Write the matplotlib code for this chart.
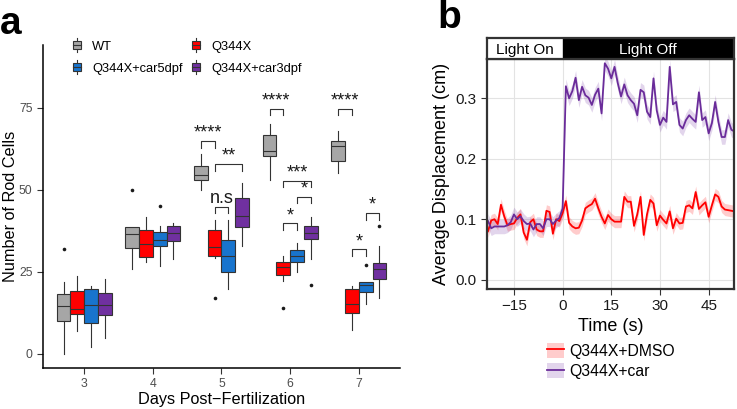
import matplotlib.pyplot as plt
from matplotlib.patches import Rectangle, Patch
from matplotlib.lines import Line2D
from matplotlib.legend_handler import HandlerBase

plt.rcParams['font.family'] = ['Liberation Sans', 'DejaVu Sans']

# ---- Panel a data (rod cell counts, box stats per day: [low whisker, q1, median, q3, high whisker])
days = [3, 4, 5, 6, 7]
groups = ['WT', 'Q344X', 'Q344X+car5dpf', 'Q344X+car3dpf']
group_colors = ['#A6A6A6', '#FF0000', '#1874CD', '#7030A0']

wt_stats = [[0, 10.1, 14.5, 18.4, 21.8], [25.9, 32.4, 36.5, 38.8, 38.8], [50, 52.9, 54.6, 57.2, 61],
            [53.1, 60.2, 62, 66.9, 70], [55.1, 58.9, 63.3, 65, 67.9]]
wt_fliers = [[32], [50], [], [], []]
q344x_stats = [[6.9, 12.2, 13.7, 19.2, 23.8], [28.1, 29.7, 33.5, 37.7, 41.9], [29.2, 29.9, 32.6, 37.7, 40.9],
               [22.2, 24.1, 26.5, 28.1, 29.9], [7.2, 12.4, 15.1, 19.7, 20.8]]
q344x_fliers = [[], [], [16.9], [14.1], []]
car5_stats = [[2.0, 9.4, 14.9, 19.7, 20.8], [26.8, 32.9, 34.6, 37.3, 38.9], [19.9, 24.9, 30, 34.7, 40.9],
              [25.1, 28, 30, 31.7, 33.8], [15.1, 19.0, 20.9, 22.0, 22.0]]
car5_fliers = [[], [45], [], [], [27]]
car3_stats = [[4.9, 12.0, 14.9, 18.7, 22.9], [28.9, 34.3, 37, 39, 39.9], [33, 38.6, 42.1, 47.6, 52],
              [29, 34.9, 37, 39, 41.9], [17.2, 22.9, 25.9, 27.7, 33]]
car3_fliers = [[], [], [], [21], [39]]

# significance brackets: day, group index a, group index b, height, label
sig_day = [5, 5, 5, 6, 6, 6, 6, 7, 7, 7]
sig_a = [0, 1, 1, 0, 1, 2, 1, 0, 1, 2]
sig_b = [1, 3, 2, 1, 3, 3, 2, 1, 2, 3]
sig_y = [64.9, 57.9, 44.9, 74.8, 52.8, 48.0, 39.8, 74.8, 31.9, 42.9]
sig_label = ['****', '**', 'n.s', '****', '***', '*', '*', '****', '*', '*']

# ---- Panel b data (average displacement, 1 s bins)
time_s = list(range(-23, 54))
dmso = [0.080, 0.098, 0.100, 0.092, 0.124, 0.105, 0.090, 0.092, 0.093, 0.102, 0.108, 0.078, 0.066,
        0.095, 0.100, 0.083, 0.080, 0.080, 0.114, 0.112, 0.076, 0.100, 0.097, 0.110, 0.130, 0.094,
        0.088, 0.085, 0.086, 0.098, 0.118, 0.122, 0.125, 0.134, 0.118, 0.104, 0.093, 0.107, 0.100,
        0.096, 0.096, 0.096, 0.137, 0.129, 0.129, 0.089, 0.108, 0.137, 0.074, 0.108, 0.132, 0.126,
        0.090, 0.106, 0.099, 0.093, 0.113, 0.085, 0.101, 0.093, 0.094, 0.121, 0.123, 0.118, 0.145,
        0.117, 0.123, 0.128, 0.104, 0.123, 0.141, 0.137, 0.121, 0.116, 0.115, 0.114, 0.113]
car = [0.097, 0.085, 0.088, 0.088, 0.088, 0.088, 0.090, 0.095, 0.108, 0.100, 0.105, 0.097, 0.092,
       0.093, 0.083, 0.092, 0.092, 0.085, 0.100, 0.100, 0.092, 0.098, 0.102, 0.118, 0.320, 0.300,
       0.312, 0.334, 0.297, 0.319, 0.305, 0.301, 0.289, 0.306, 0.316, 0.275, 0.358, 0.349, 0.333,
       0.352, 0.325, 0.303, 0.323, 0.305, 0.297, 0.291, 0.272, 0.314, 0.310, 0.278, 0.269, 0.333,
       0.280, 0.256, 0.268, 0.261, 0.352, 0.290, 0.294, 0.256, 0.250, 0.264, 0.272, 0.266, 0.261,
       0.310, 0.264, 0.269, 0.242, 0.259, 0.294, 0.261, 0.236, 0.236, 0.264, 0.248, 0.245]
dmso_se = 0.010
car_se = 0.012


# Legend key that looks like a small boxplot
class BoxKey(HandlerBase):
    def create_artists(self, legend, orig_handle, xdescent, ydescent, width, height, fontsize, trans):
        x0, y0 = -xdescent, -ydescent
        whisk = Line2D([x0 + width / 2] * 2, [y0 - 0.35 * height, y0 + 1.35 * height],
                       color='#333333', lw=0.8, transform=trans)
        box = Rectangle((x0, y0), width, height, facecolor=orig_handle.get_facecolor(),
                        edgecolor='#333333', lw=0.8, transform=trans)
        med = Line2D([x0, x0 + width], [y0 + height / 2] * 2, color='#333333', lw=0.8, transform=trans)
        return [whisk, box, med]


fig = plt.figure(figsize=(7.37, 4.09), dpi=100)

# ================= Panel a =================
ax1 = fig.add_axes([0.0583, 0.1002, 0.4844, 0.7898])
offsets = [-0.3, -0.1, 0.1, 0.3]
all_stats = [wt_stats, q344x_stats, car5_stats, car3_stats]
all_fliers = [wt_fliers, q344x_fliers, car5_fliers, car3_fliers]

for gi in range(len(groups)):
    bx = []
    for s, f in zip(all_stats[gi], all_fliers[gi]):
        bx.append(dict(whislo=s[0], q1=s[1], med=s[2], q3=s[3], whishi=s[4], fliers=f))
    ax1.bxp(bx, positions=[d + offsets[gi] for d in days], widths=0.2, patch_artist=True,
            showcaps=False, manage_ticks=False,
            boxprops=dict(facecolor=group_colors[gi], edgecolor='#333333', linewidth=0.8),
            medianprops=dict(color='#333333', linewidth=0.8),
            whiskerprops=dict(color='#333333', linewidth=0.8),
            flierprops=dict(marker='o', markersize=2.6, markerfacecolor='#1A1A1A',
                            markeredgecolor='none'))

# significance brackets
for d, a, b, y, lab in zip(sig_day, sig_a, sig_b, sig_y, sig_label):
    x0 = d + offsets[a]
    x1 = d + offsets[b]
    ax1.plot([x0, x0, x1, x1], [y - 2, y, y, y - 2], color='#333333', lw=0.8)
    ax1.text((x0 + x1) / 2, y + 1.0, lab, ha='center', va='baseline', fontsize=13, color='#1A1A1A')

ax1.set_xlim(2.4, 7.6)
ax1.set_ylim(-4.3, 94.2)
ax1.set_xticks(days)
ax1.set_yticks([0, 25, 50, 75])
ax1.spines['top'].set_visible(False)
ax1.spines['right'].set_visible(False)
for sp in ['left', 'bottom']:
    ax1.spines[sp].set_linewidth(1.1)
    ax1.spines[sp].set_color('black')
ax1.tick_params(labelsize=8.8, labelcolor='#4D4D4D', color='#333333', length=4, width=0.8)
ax1.set_xlabel('Days Post\u2212Fertilization', fontsize=11.7, labelpad=1)
ax1.set_ylabel('Number of Rod Cells', fontsize=11.7, labelpad=1)

box_handles = [Patch(facecolor=c) for c in group_colors]
order = [0, 2, 1, 3]
ax1.legend([box_handles[i] for i in order], [groups[i] for i in order], ncol=2,
           handler_map={Patch: BoxKey()}, loc='upper left', bbox_to_anchor=(0.099, 0.90),
           bbox_transform=fig.transFigure, frameon=False, fontsize=9.3, handlelength=0.6,
           handleheight=0.6, handletextpad=0.9, columnspacing=0.7, labelspacing=0.75,
           borderpad=0, borderaxespad=0)

# ================= Panel b =================
ax2 = fig.add_axes([0.6608, 0.2934, 0.3351, 0.5623])
lo_d = [v - dmso_se for v in dmso]
hi_d = [v + dmso_se for v in dmso]
lo_c = [v - car_se for v in car]
hi_c = [v + car_se for v in car]
ax2.fill_between(time_s, lo_d, hi_d, color='#FF0000', alpha=0.2, lw=0)
ax2.plot(time_s, dmso, color='#FF0000', lw=1.3, label='Q344X+DMSO')
ax2.fill_between(time_s, lo_c, hi_c, color='#7030A0', alpha=0.2, lw=0)
ax2.plot(time_s, car, color='#6A2C9A', lw=1.3, label='Q344X+car')

ax2.set_xlim(-23.3, 52.8)
ax2.set_ylim(-0.0154, 0.365)
ax2.set_xticks([-15, 0, 15, 30, 45])
ax2.set_yticks([0.0, 0.1, 0.2, 0.3])
ax2.set_yticklabels(['0.0', '0.1', '0.2', '0.3'])
ax2.grid(True, color='#E3E3E3', lw=0.8)
ax2.set_axisbelow(True)
for sp in ax2.spines.values():
    sp.set_linewidth(1.6)
    sp.set_color('#333333')
ax2.tick_params(labelsize=11, labelcolor='#1A1A1A', color='#333333', length=4, width=0.8)
ax2.set_xlabel('Time (s)', fontsize=13, labelpad=3)
ax2.set_ylabel('Average Displacement (cm)', fontsize=13, labelpad=4)

leg_handles = [(Patch(facecolor='#FF0000', alpha=0.2, lw=0), Line2D([], [], color='#FF0000', lw=1.3)),
               (Patch(facecolor='#7030A0', alpha=0.2, lw=0), Line2D([], [], color='#6A2C9A', lw=1.3))]
ax2.legend(leg_handles, ['Q344X+DMSO', 'Q344X+car'], loc='upper left',
           bbox_to_anchor=(0.742, 0.162), bbox_transform=fig.transFigure, frameon=False,
           fontsize=11.3, handlelength=1.1, handleheight=1.1, handletextpad=0.3,
           labelspacing=0.3, borderpad=0, borderaxespad=0)

# strip on top of panel b
ax_s = fig.add_axes([0.6608, 0.8557, 0.3351, 0.0513])
ax_s.set_xlim(ax2.get_xlim())
ax_s.set_ylim(0, 1)
ax_s.axvspan(0, 52.8, color='black')
ax_s.text(-23.3 / 2, 0.45, 'Light On', ha='center', va='center', fontsize=11)
ax_s.text(52.8 / 2, 0.45, 'Light Off', ha='center', va='center', fontsize=11, color='white')
ax_s.set_xticks([])
ax_s.set_yticks([])
for sp in ax_s.spines.values():
    sp.set_linewidth(1.6)
    sp.set_color('#333333')

# panel letters
fig.text(0.0, 0.985, 'a', fontsize=28, fontweight='bold', va='top', ha='left')
fig.text(0.594, 1.0, 'b', fontsize=28, fontweight='bold', va='top', ha='left')

fig.savefig('out.png', dpi=100)
